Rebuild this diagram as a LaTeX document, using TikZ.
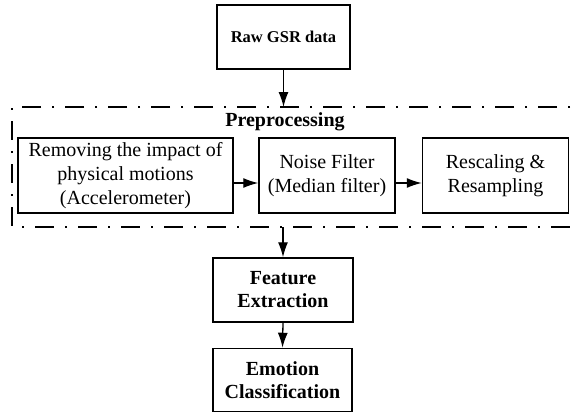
\documentclass[tikz,border=0pt]{standalone}
\usepackage{fontspec}
\setmainfont{Liberation Serif}
\usetikzlibrary{arrows.meta}

\tikzset{
  blk/.style = {draw, line width=1.5pt, align=center, inner sep=0pt,
                font=\fontsize{20}{24}\selectfont},
  bblk/.style = {blk, font=\fontsize{20}{23}\selectfont\bfseries},
  flow/.style = {line width=1.3pt, -{Latex[length=15pt,width=10pt]}},
  frame/.style = {line width=2pt, dash pattern=on 19pt off 11pt on 2pt off 11pt}
}

\begin{document}
\begin{tikzpicture}[x=1pt,y=-1pt]

  \clip (0,0) rectangle (578,413);
  \useasboundingbox (0,0) rectangle (578,413);

  % input
  \node[bblk, minimum width=133pt, minimum height=64pt,
        font=\fontsize{16.5}{20}\selectfont\bfseries] (raw) at (283.5,37) {Raw GSR data};

  % preprocessing frame
  \draw[frame] (600,107) -- (12,107) -- (12,227) -- (600,227);
  \coordinate (pretop) at (283.5,107);
  \coordinate (prebot) at (283,227);
  \node[font=\fontsize{20}{24}\selectfont\bfseries] (pretitle) at (285,122) {Preprocessing};

  \node[blk, minimum width=215pt, minimum height=75pt] (motion) at (125.5,175.5)
        {Removing the impact of\\physical motions\\(Accelerometer)};
  \node[blk, minimum width=136pt, minimum height=75pt] (noise) at (327,175.5)
        {Noise Filter\\(Median filter)};
  \node[blk, minimum width=146pt, minimum height=75pt] (rescale) at (495.5,175.5)
        {Rescaling \&\\Resampling};

  % later stages
  \node[bblk, minimum width=140pt, minimum height=64pt] (feat) at (283,290)
        {Feature\\Extraction};
  \node[bblk, minimum width=139pt, minimum height=63pt] (emo) at (282.5,380)
        {Emotion\\Classification};

  \draw[flow] (raw.south) -- (pretop);
  \draw[flow] ([yshift=-7.5pt]motion.east) -- ([yshift=-7.5pt]noise.west);
  \draw[flow] ([yshift=-7.5pt]noise.east) -- ([yshift=-7.5pt]rescale.west);
  \draw[flow] (prebot) -- (feat.north);
  \draw[flow] (feat.south) -- (emo.north);

\end{tikzpicture}
\end{document}
